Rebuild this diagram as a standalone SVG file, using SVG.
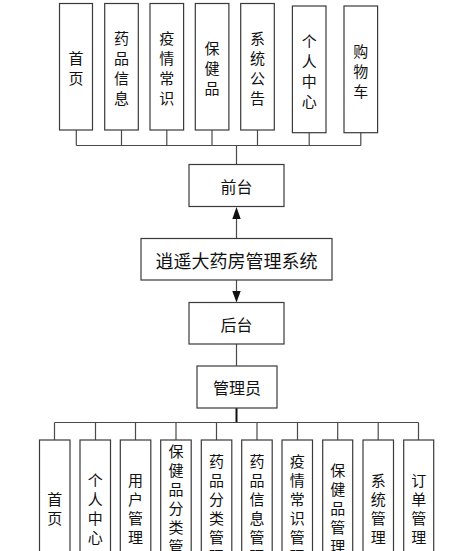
<svg xmlns="http://www.w3.org/2000/svg" width="456" height="551" viewBox="0 0 456 551">
<style>
.box{fill:#fff;stroke:#3a3a3a;stroke-width:1.2}
.ln{fill:none;stroke:#4a4a4a;stroke-width:1.2}
.t{font-family:"Noto Sans CJK SC","Noto Sans",sans-serif;fill:#111;text-anchor:middle;dominant-baseline:central}
.s{font-size:15px}
.m{font-size:16px}
.l{font-size:18px}
</style>
<rect width="456" height="551" fill="#fff"/>
<g id="connectors">
<path class="ln" d="M76.3 130V145.5M121.5 130V145.5M166.8 130V145.5M212 130V145.5M257.5 130V145.5M309.2 132.7V145.5M360.8 132.7V145.5M76.3 145.5H360.8M236.5 145.5V164.5"/>
<path class="ln" d="M236.5 238.5V218M236.5 280V292M236.5 344V366"/>
<polygon points="236.5,207 232.3,219 240.7,219" fill="#111"/>
<polygon points="236.5,302.5 232.3,291 240.7,291" fill="#111"/>
<path d="M236.5 408V422.5" stroke="#111" stroke-width="2" fill="none"/>
<path class="ln" d="M54.5 422.5H418.5M54.5 422.5V440M95.5 422.5V440M135.5 422.5V440M176 422.5V440M216.5 422.5V440M257 422.5V440M297.5 422.5V440M337.7 422.5V440M378.2 422.5V440M418.5 422.5V440"/>
</g>
<g id="n-shouye"><rect class="box" x="59.5" y="3.5" width="33" height="126.5"/><text class="t s" x="76" y="0"><tspan x="76" y="56.5">首</tspan><tspan x="76" y="76.5">页</tspan></text></g>
<g id="n-yaopin"><rect class="box" x="104.7" y="3.5" width="33.6" height="126.5"/><text class="t s"><tspan x="121.5" y="36.5">药</tspan><tspan x="121.5" y="56.5">品</tspan><tspan x="121.5" y="76.5">信</tspan><tspan x="121.5" y="96.5">息</tspan></text></g>
<g id="n-yiqing"><rect class="box" x="150" y="3.5" width="33.6" height="126.5"/><text class="t s"><tspan x="166.8" y="36.5">疫</tspan><tspan x="166.8" y="56.5">情</tspan><tspan x="166.8" y="76.5">常</tspan><tspan x="166.8" y="96.5">识</tspan></text></g>
<g id="n-baojian"><rect class="box" x="195.3" y="3.5" width="33.6" height="126.5"/><text class="t s"><tspan x="212" y="46.5">保</tspan><tspan x="212" y="66.5">健</tspan><tspan x="212" y="86.5">品</tspan></text></g>
<g id="n-xitong"><rect class="box" x="240.7" y="3.5" width="33.6" height="126.5"/><text class="t s"><tspan x="257.5" y="36.5">系</tspan><tspan x="257.5" y="56.5">统</tspan><tspan x="257.5" y="76.5">公</tspan><tspan x="257.5" y="96.5">告</tspan></text></g>
<g id="n-geren"><rect class="box" x="292.4" y="6" width="33.6" height="126.7"/><text class="t s"><tspan x="309.2" y="39.5">个</tspan><tspan x="309.2" y="59.5">人</tspan><tspan x="309.2" y="79.5">中</tspan><tspan x="309.2" y="99.5">心</tspan></text></g>
<g id="n-gouwu"><rect class="box" x="344" y="6" width="33.6" height="126.7"/><text class="t s"><tspan x="360.8" y="49.5">购</tspan><tspan x="360.8" y="69.5">物</tspan><tspan x="360.8" y="89.5">车</tspan></text></g>
<g id="n-qiantai"><rect class="box" x="189" y="164.5" width="95" height="42"/><text class="t m" x="236.5" y="185.5">前台</text></g>
<g id="n-system"><rect class="box" x="141" y="238.5" width="191" height="41.5"/><text class="t l" x="236.5" y="259.5">逍遥大药房管理系统</text></g>
<g id="n-houtai"><rect class="box" x="189" y="302.5" width="95" height="41.5"/><text class="t m" x="236.5" y="323.5">后台</text></g>
<g id="n-admin"><rect class="box" x="197" y="366" width="80" height="42"/><text class="t m" x="237" y="387">管理员</text></g>
<g id="b-shouye"><rect class="box" x="39.5" y="440" width="30.5" height="134"/><text class="t s"><tspan x="54.7" y="497.5">首</tspan><tspan x="54.7" y="516.5">页</tspan></text></g>
<g id="b-geren"><rect class="box" x="80" y="440" width="30.5" height="134"/><text class="t s"><tspan x="95.3" y="478.5">个</tspan><tspan x="95.3" y="497.5">人</tspan><tspan x="95.3" y="516.5">中</tspan><tspan x="95.3" y="535.5">心</tspan></text></g>
<g id="b-yonghu"><rect class="box" x="120.3" y="440" width="30.5" height="134"/><text class="t s"><tspan x="135.5" y="478.5">用</tspan><tspan x="135.5" y="497.5">户</tspan><tspan x="135.5" y="516.5">管</tspan><tspan x="135.5" y="535.5">理</tspan></text></g>
<g id="b-bjfl"><rect class="box" x="160.7" y="440" width="30.5" height="134"/><text class="t s"><tspan x="176" y="450">保</tspan><tspan x="176" y="469">健</tspan><tspan x="176" y="488">品</tspan><tspan x="176" y="507">分</tspan><tspan x="176" y="526">类</tspan><tspan x="176" y="545">管</tspan><tspan x="176" y="564">理</tspan></text></g>
<g id="b-ypfl"><rect class="box" x="201.3" y="440" width="30.5" height="134"/><text class="t s"><tspan x="216.5" y="459.5">药</tspan><tspan x="216.5" y="478.5">品</tspan><tspan x="216.5" y="497.5">分</tspan><tspan x="216.5" y="516.5">类</tspan><tspan x="216.5" y="535.5">管</tspan><tspan x="216.5" y="554.5">理</tspan></text></g>
<g id="b-ypxx"><rect class="box" x="241.7" y="440" width="30.5" height="134"/><text class="t s"><tspan x="257" y="459.5">药</tspan><tspan x="257" y="478.5">品</tspan><tspan x="257" y="497.5">信</tspan><tspan x="257" y="516.5">息</tspan><tspan x="257" y="535.5">管</tspan><tspan x="257" y="554.5">理</tspan></text></g>
<g id="b-yqcs"><rect class="box" x="282" y="440" width="30.5" height="134"/><text class="t s"><tspan x="297.3" y="459.5">疫</tspan><tspan x="297.3" y="478.5">情</tspan><tspan x="297.3" y="497.5">常</tspan><tspan x="297.3" y="516.5">识</tspan><tspan x="297.3" y="535.5">管</tspan><tspan x="297.3" y="554.5">理</tspan></text></g>
<g id="b-bjp"><rect class="box" x="322.7" y="440" width="30" height="134"/><text class="t s"><tspan x="337.7" y="469">保</tspan><tspan x="337.7" y="488">健</tspan><tspan x="337.7" y="507">品</tspan><tspan x="337.7" y="526">管</tspan><tspan x="337.7" y="545">理</tspan></text></g>
<g id="b-xitong"><rect class="box" x="363" y="440" width="30.5" height="134"/><text class="t s"><tspan x="378.2" y="478.5">系</tspan><tspan x="378.2" y="497.5">统</tspan><tspan x="378.2" y="516.5">管</tspan><tspan x="378.2" y="535.5">理</tspan></text></g>
<g id="b-dingdan"><rect class="box" x="403.7" y="440" width="30" height="134"/><text class="t s"><tspan x="418.7" y="478.5">订</tspan><tspan x="418.7" y="497.5">单</tspan><tspan x="418.7" y="516.5">管</tspan><tspan x="418.7" y="535.5">理</tspan></text></g>
</svg>
